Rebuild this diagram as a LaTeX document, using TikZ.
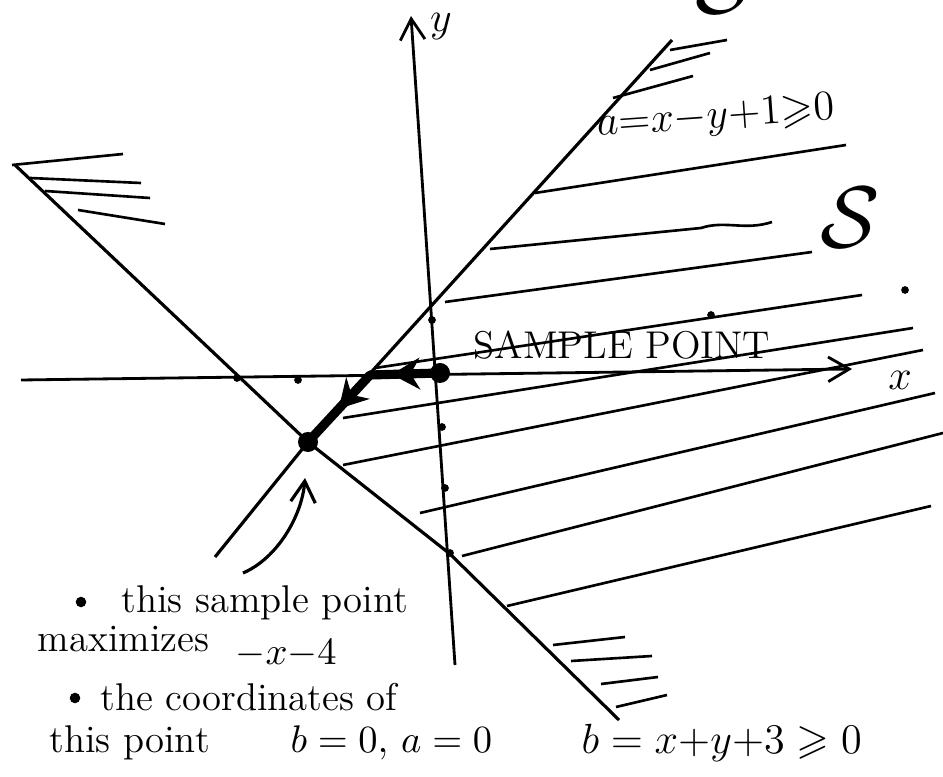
\documentclass[tikz,border=0pt]{standalone}
\usepackage{amssymb}
\usetikzlibrary{arrows.meta,decorations.markings}
\tikzset{
  axis/.style={line width=0.8pt,-{Straight Barb[length=6pt,width=7pt]}},
  hatch/.style={line width=0.75pt},
  dot/.style={circle,fill,inner sep=0pt,minimum size=2.2pt},
  bigdot/.style={circle,fill,inner sep=0pt,minimum size=0.2cm},
  walk/.style={line width=2.6pt,line join=round,postaction={decorate},
    decoration={markings,
      mark=at position 0.3 with {\arrow{Stealth[length=8pt,width=9pt]}},
      mark=at position 0.72 with {\arrow{Stealth[length=8pt,width=9pt]}}}},
  label/.style={inner sep=0pt,anchor=base west}
}
\begin{document}
\begin{tikzpicture}[x=0.01cm,y=-0.01cm,line width=0.9pt]
\useasboundingbox (0,0) rectangle (943,777);

\coordinate (xl) at (21,380);
\coordinate (xr) at (852,369);
\coordinate (yb) at (455,665);
\coordinate (yt) at (411,16);
\coordinate (atop) at (672,40);
\coordinate (abot) at (215,557);
\coordinate (btop) at (15,165);
\coordinate (bmid) at (450,554);
\coordinate (bbot) at (619,720);
\coordinate (corner) at (370,375);
\coordinate (from) at (243,573);
\coordinate (to) at (305,478);

\node[bigdot] (sp) at (440,373) {};
\node[bigdot] (opt) at (308,442) {};

\draw[axis] (xl) -- (xr);
\draw[axis] (yb) -- (yt);
\node (xlab) at (900,380) {\large$x$};
\node (ylab) at (441,27) {\large$y$};

\draw (atop) -- (opt.center) -- (abot);
\draw (btop) -- (opt.center) -- (bmid) -- (bbot);

\draw[walk] (sp.center) -- (corner) -- (opt.center);
\draw[-{Straight Barb[length=6pt,width=7pt]}] (from) .. controls (278,558) and (302,515) .. (to);

\draw[hatch] (535,193) -- (846,145);
\draw[hatch] (490,249) -- (701,228) .. controls (725,220) and (745,231) .. (772,222);
\draw[hatch] (445,302) -- (812,252);
\draw[hatch] (375,368) -- (862,295);
\draw[hatch] (343,418) -- (913,328);
\draw[hatch] (343,465) -- (923,350);
\draw[hatch] (420,513) -- (935,393);
\draw[hatch] (462,556) -- (943,433);
\draw[hatch] (507,606) -- (931,506);

\draw[hatch] (12,165) -- (123,154);
\draw[hatch] (30,178) -- (141,183);
\draw[hatch] (45,191) -- (150,198);
\draw[hatch] (78,210) -- (165,224);

\draw[hatch] (670,50) -- (727,40);
\draw[hatch] (650,70) -- (710,53);
\draw[hatch] (613,98) -- (693,76);

\draw[hatch] (553,645) -- (625,637);
\draw[hatch] (571,661) -- (652,656);
\draw[hatch] (601,684) -- (658,677);
\draw[hatch] (616,707) -- (667,695);

\foreach \p in {(237,378),(298,380),(432,320),(442,427),(445,488),(450,553),(711,315),(905,290)}
  \node[dot] at \p {};

\node (S) at (850,218) {\Huge$\mathcal{S}$};
\node (Stop) at (725,-16) {\Huge$\mathcal{S}$};
\node[font=\fontsize{11}{13}\selectfont] (sample) at (622,345) {SAMPLE POINT};
\node[label,rotate=4] (a) at (596,136) {\large$a{=}x{-}y{+}1{\geqslant}0$};
\node[label] (b) at (580,753) {\large$b = x{+}y{+}3 \geqslant 0$};

\node[dot,minimum size=3pt] (bul1) at (81,602) {};
\node[label,font=\fontsize{11}{13}\selectfont] (t1) at (120,613) {this sample point};
\node[label,font=\fontsize{11}{13}\selectfont] (t2) at (36,652) {maximizes};
\node[label,font=\fontsize{11}{13}\selectfont] (t3) at (234,665) {$-x{-}4$};
\node[dot,minimum size=3pt] (bul2) at (75,698) {};
\node[label,font=\fontsize{11}{13}\selectfont] (t4) at (99,710) {the coordinates of};
\node[label,font=\fontsize{11}{13}\selectfont] (t5) at (48,752) {this point};
\node[label,font=\fontsize{11}{13}\selectfont] (t6) at (289,752) {$b=0,\, a=0$};
\end{tikzpicture}
\end{document}
